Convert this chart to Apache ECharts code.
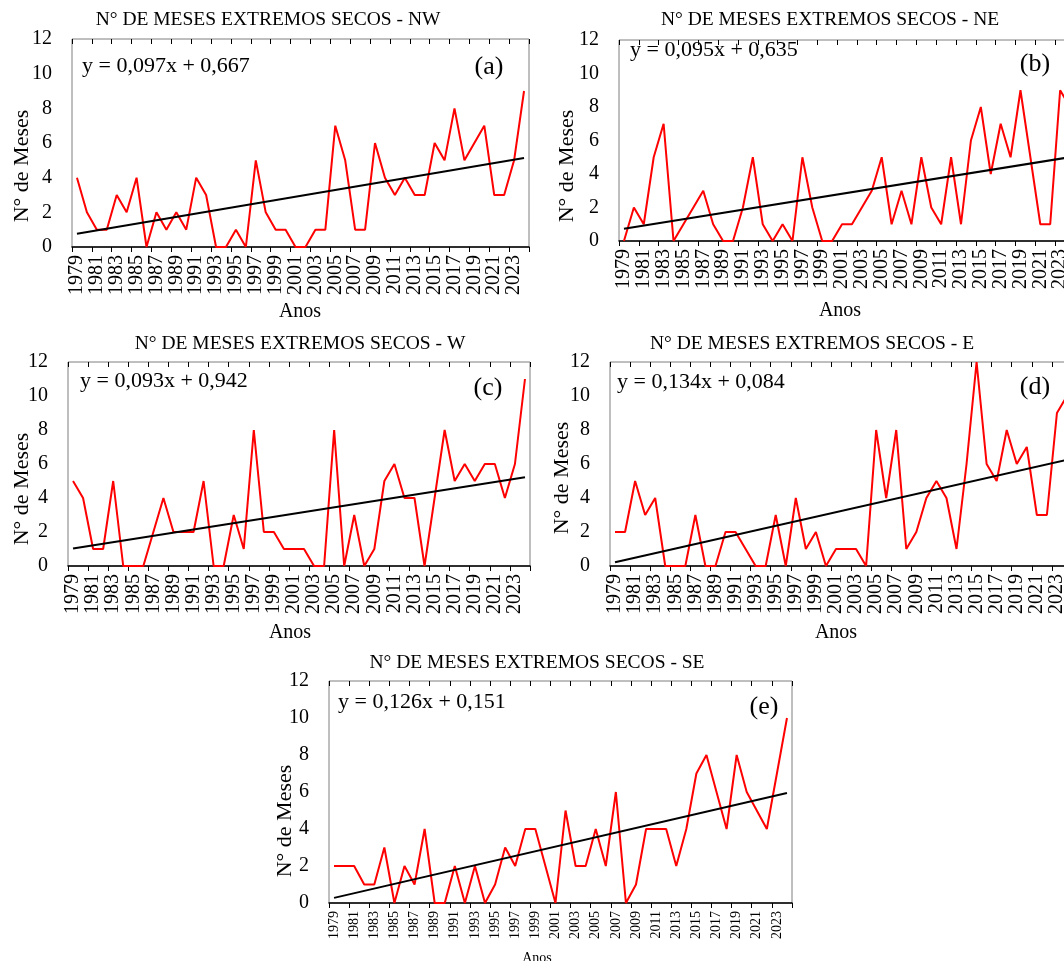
<!DOCTYPE html>
<html><head><meta charset="utf-8">
<script src="https://cdn.jsdelivr.net/npm/echarts@6/dist/echarts.min.js"></script>
<style>html,body{margin:0;padding:0;background:#fff}#c{width:1064px;height:961px}</style>
</head><body><div id="c"></div>
<script>
const years = ['1979','1980','1981','1982','1983','1984','1985','1986','1987','1988','1989','1990','1991','1992','1993','1994','1995','1996','1997','1998','1999','2000','2001','2002','2003','2004','2005','2006','2007','2008','2009','2010','2011','2012','2013','2014','2015','2016','2017','2018','2019','2020','2021','2022','2023','2024'];
const nwValues = [4,2,1,1,3,2,4,0,2,1, 2,1,4,3,0,0,1,0,5,2, 1,1,0,0,1,1,7,5,1,1, 6,4,3,4,3,3,6,5,8,5, 6,7,3,3,5,9];
const neValues = [0,2,1,5,7,0,1,2,3,1, 0,0,2,5,1,0,1,0,5,2, 0,0,1,1,2,3,5,1,3,1, 5,2,1,5,1,6,8,4,7,5, 9,5,1,1,9,8];
const wValues  = [5,4,1,1,5,0,0,0,2,4, 2,2,2,5,0,0,3,1,8,2, 2,1,1,1,0,0,8,0,3,0, 1,5,6,4,4,0,4,8,5,6, 5,6,6,4,6,11];
const eValues  = [2,2,5,3,4,0,0,0,3,0, 0,2,2,1,0,0,3,0,4,1, 2,0,1,1,1,0,8,4,8,1, 2,4,5,4,1,6,12,6,5,8, 6,7,3,3,9,10];
const seValues = [2,2,2,1,1,3,0,2,1,4, 0,0,2,0,2,0,1,3,2,4, 4,2,0,5,2,2,4,2,6,0, 1,4,4,4,2,4,7,8,6,4, 8,6,5,4,7,10];
const regionNames = ['NW','NE','W','E','SE'];
const panelLetters = ['(a)','(b)','(c)','(d)','(e)'];
const trendSlopes = [0.097,0.095,0.093,0.134,0.126];
const trendIntercepts = [0.667,0.635,0.942,0.084,0.151];
const equationTexts = ['y = 0,097x + 0,667','y = 0,095x + 0,635','y = 0,093x + 0,942','y = 0,134x + 0,084','y = 0,126x + 0,151'];
const yTicks = {min:0, max:12, interval:2};
const allValues = [nwValues, neValues, wValues, eValues, seValues];

// layout (pixels)
const grids = [
  {left:72, top:39, width:457, height:208},
  {left:619, top:40, width:456, height:201},
  {left:68, top:362, width:462, height:204},
  {left:610, top:362, width:462, height:204},
  {left:329, top:681, width:463, height:222}
];
const titlePos = [[268,20],[830,20],[300,344],[812,344],[537,663]];
const eqPos = [[82,66],[630,50],[80,381],[617,382],[338,702]];
const letterPos = [[489,67],[1035,64],[488,388],[1035,387],[764,707]];
const yNamePos = [[22,166],[567,166],[22,489],[562,478],[285,821]];
const xNamePos = [[300,312],[840,311],[290,633],[836,633],[537,958]];

const FONT = '"Liberation Serif","Times New Roman",serif';
const option = {animation:false, grid:[], xAxis:[], yAxis:[], series:[], graphic:[]};
for (let i=0;i<5;i++){
  option.grid.push(Object.assign({show:true, borderColor:'#7f7f7f', borderWidth:1, backgroundColor:'transparent', outerBoundsMode:'none', containLabel:false}, grids[i]));
  const lblSize = i===4 ? 14 : 20;
  option.xAxis.push({type:'category', gridIndex:i, data:years, boundaryGap:true,
    axisLine:{show:true, lineStyle:{color:'#000', width:1.5}},
    axisTick:{show:true, interval:1, length:5, lineStyle:{color:'#000', width:1}},
    axisLabel:{interval:1, rotate:90, fontFamily:FONT, fontSize:lblSize, color:'#000', margin:8, showMinLabel:true, hideOverlap:false},
    splitLine:{show:false}});
  option.xAxis.push({type:'category', gridIndex:i, data:years, boundaryGap:true,
    axisLine:{show:false},
    axisTick:{show:true, inside:true, interval:1, length:5, lineStyle:{color:'#000', width:1}},
    axisLabel:{show:false}, splitLine:{show:false}});
  option.yAxis.push({type:'value', gridIndex:i, min:yTicks.min, max:yTicks.max, interval:yTicks.interval,
    axisLine:{show:false}, axisTick:{show:false}, splitLine:{show:false},
    axisLabel:{fontFamily:FONT, fontSize:20, color:'#000', margin:20}});
  option.series.push({type:'line', xAxisIndex:2*i, yAxisIndex:i, data:allValues[i], symbol:'none',
    lineStyle:{color:'#ff0000', width:2}, z:3});
  const n = years.length;
  const trend = [[0, trendSlopes[i]*1+trendIntercepts[i]], [n-1, trendSlopes[i]*n+trendIntercepts[i]]];
  option.series.push({type:'line', xAxisIndex:2*i, yAxisIndex:i, data:trend, symbol:'none',
    lineStyle:{color:'#000', width:2}, z:4});
  option.graphic.push({type:'text', x:titlePos[i][0], y:titlePos[i][1], z:10,
    style:{text:'N° DE MESES EXTREMOS SECOS - '+regionNames[i], font:'19.5px '+FONT, fill:'#000', align:'center', verticalAlign:'middle'}});
  option.graphic.push({type:'text', x:eqPos[i][0], y:eqPos[i][1], z:10,
    style:{text:equationTexts[i], font:'22px '+FONT, fill:'#000', align:'left', verticalAlign:'middle'}});
  option.graphic.push({type:'text', x:letterPos[i][0], y:letterPos[i][1], z:10,
    style:{text:panelLetters[i], font:'26px '+FONT, fill:'#000', align:'center', verticalAlign:'middle'}});
  option.graphic.push({type:'text', x:yNamePos[i][0], y:yNamePos[i][1], rotation:Math.PI/2, z:10,
    style:{text:'N° de Meses', font:'22px '+FONT, fill:'#000', align:'center', verticalAlign:'middle'}});
  option.graphic.push({type:'text', x:xNamePos[i][0], y:xNamePos[i][1], z:1,
    style:{text:'Anos', font:(i===4?'14px ':'20px ')+FONT, fill:'#000', align:'center', verticalAlign:'middle'}});
}
const chart = echarts.init(document.getElementById('c'), null, {renderer:'canvas'});
chart.setOption(option);
</script>
</body></html>
